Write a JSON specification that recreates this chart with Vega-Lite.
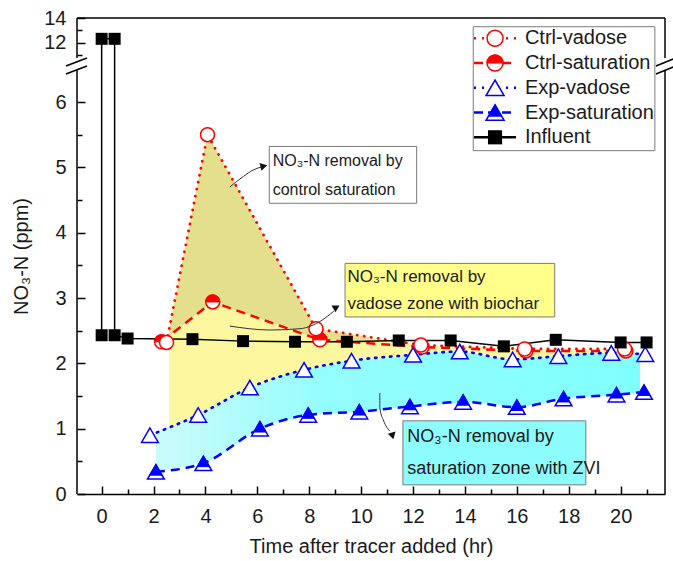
{
  "$schema": "https://vega.github.io/schema/vega-lite/v6.json",
  "width": 588,
  "height": 476,
  "autosize": "none",
  "padding": {"left": 77, "top": 18, "right": 8, "bottom": 67},
  "background": "white",
  "config": {"view": {"stroke": null}, "axis": {"labelFont": "Liberation Sans", "titleFont": "Liberation Sans"}},
  "datasets": {
    "pts": [
      {"s": "Influent", "t": 0, "v": 2.43, "o": 1},
      {"s": "Influent", "t": 0, "v": 12.33, "o": 2},
      {"s": "Influent", "t": 0.5, "v": 12.33, "o": 3},
      {"s": "Influent", "t": 0.5, "v": 2.43, "o": 4},
      {"s": "Influent", "t": 1.0, "v": 2.38, "o": 5},
      {"s": "Influent", "t": 3.5, "v": 2.37, "o": 6},
      {"s": "Influent", "t": 5.45, "v": 2.34, "o": 7},
      {"s": "Influent", "t": 7.45, "v": 2.33, "o": 8},
      {"s": "Influent", "t": 9.45, "v": 2.33, "o": 9},
      {"s": "Influent", "t": 11.45, "v": 2.35, "o": 10},
      {"s": "Influent", "t": 13.45, "v": 2.35, "o": 11},
      {"s": "Influent", "t": 15.5, "v": 2.26, "o": 12},
      {"s": "Influent", "t": 17.5, "v": 2.36, "o": 13},
      {"s": "Influent", "t": 20.0, "v": 2.32, "o": 14},
      {"s": "Influent", "t": 21.0, "v": 2.32, "o": 15},
      {"s": "Ctrl-vadose", "t": 2.5, "v": 2.32, "o": 1},
      {"s": "Ctrl-vadose", "t": 4.08, "v": 5.5, "o": 2},
      {"s": "Ctrl-vadose", "t": 8.26, "v": 2.53, "o": 3},
      {"s": "Ctrl-vadose", "t": 12.3, "v": 2.28, "o": 4},
      {"s": "Ctrl-vadose", "t": 16.3, "v": 2.22, "o": 5},
      {"s": "Ctrl-vadose", "t": 20.15, "v": 2.22, "o": 6},
      {"s": "Ctrl-saturation", "t": 2.31, "v": 2.33, "o": 1},
      {"s": "Ctrl-saturation", "t": 4.28, "v": 2.94, "o": 2},
      {"s": "Ctrl-saturation", "t": 8.41, "v": 2.36, "o": 3},
      {"s": "Ctrl-saturation", "t": 12.35, "v": 2.25, "o": 4},
      {"s": "Ctrl-saturation", "t": 16.35, "v": 2.19, "o": 5},
      {"s": "Ctrl-saturation", "t": 20.2, "v": 2.19, "o": 6},
      {"s": "Exp-vadose", "t": 1.86, "v": 0.9, "o": 1},
      {"s": "Exp-vadose", "t": 3.72, "v": 1.21, "o": 2},
      {"s": "Exp-vadose", "t": 5.71, "v": 1.63, "o": 3},
      {"s": "Exp-vadose", "t": 7.8, "v": 1.9, "o": 4},
      {"s": "Exp-vadose", "t": 9.63, "v": 2.04, "o": 5},
      {"s": "Exp-vadose", "t": 12.0, "v": 2.13, "o": 6},
      {"s": "Exp-vadose", "t": 13.8, "v": 2.18, "o": 7},
      {"s": "Exp-vadose", "t": 15.84, "v": 2.06, "o": 8},
      {"s": "Exp-vadose", "t": 17.6, "v": 2.11, "o": 9},
      {"s": "Exp-vadose", "t": 19.64, "v": 2.16, "o": 10},
      {"s": "Exp-vadose", "t": 20.95, "v": 2.14, "o": 11},
      {"s": "Exp-saturation", "t": 2.09, "v": 0.34, "o": 1},
      {"s": "Exp-saturation", "t": 3.92, "v": 0.47, "o": 2},
      {"s": "Exp-saturation", "t": 6.1, "v": 1.0, "o": 3},
      {"s": "Exp-saturation", "t": 7.96, "v": 1.21, "o": 4},
      {"s": "Exp-saturation", "t": 9.93, "v": 1.26, "o": 5},
      {"s": "Exp-saturation", "t": 11.88, "v": 1.34, "o": 6},
      {"s": "Exp-saturation", "t": 13.93, "v": 1.41, "o": 7},
      {"s": "Exp-saturation", "t": 16.0, "v": 1.33, "o": 8},
      {"s": "Exp-saturation", "t": 17.8, "v": 1.46, "o": 9},
      {"s": "Exp-saturation", "t": 19.84, "v": 1.52, "o": 10},
      {"s": "Exp-saturation", "t": 20.9, "v": 1.56, "o": 11}
    ],
    "yel": [
      {"t": 2.6, "lo": 0.7, "hi": 2.52},
      {"t": 3.72, "lo": 0.83, "hi": 4.78},
      {"t": 4.08, "lo": 0.9, "hi": 5.5},
      {"t": 5.71, "lo": 1.27, "hi": 4.34},
      {"t": 7.8, "lo": 1.55, "hi": 2.857},
      {"t": 8.26, "lo": 1.58, "hi": 2.53},
      {"t": 9.63, "lo": 1.65, "hi": 2.445},
      {"t": 12.0, "lo": 1.74, "hi": 2.3},
      {"t": 12.3, "lo": 1.75, "hi": 2.28},
      {"t": 13.8, "lo": 1.79, "hi": 2.26},
      {"t": 15.84, "lo": 1.7, "hi": 2.23},
      {"t": 16.3, "lo": 1.71, "hi": 2.22},
      {"t": 17.6, "lo": 1.78, "hi": 2.22},
      {"t": 19.64, "lo": 1.84, "hi": 2.22},
      {"t": 20.5, "lo": 1.85, "hi": 2.21}
    ],
    "hat": [
      {"t": 2.6, "lo": 2.42, "hi": 2.52},
      {"t": 3.72, "lo": 2.77, "hi": 4.78},
      {"t": 4.08, "lo": 2.88, "hi": 5.5},
      {"t": 4.28, "lo": 2.94, "hi": 5.36},
      {"t": 5.71, "lo": 2.74, "hi": 4.34},
      {"t": 7.8, "lo": 2.45, "hi": 2.857},
      {"t": 8.26, "lo": 2.38, "hi": 2.53},
      {"t": 8.41, "lo": 2.36, "hi": 2.52},
      {"t": 9.63, "lo": 2.33, "hi": 2.445},
      {"t": 10.3, "lo": 2.31, "hi": 2.4}
    ],
    "cyan": [
      {"t": 2.09, "lo": 0.34, "hi": 0.94},
      {"t": 3.72, "lo": 0.456, "hi": 1.21},
      {"t": 3.92, "lo": 0.47, "hi": 1.25},
      {"t": 5.71, "lo": 0.905, "hi": 1.63},
      {"t": 6.1, "lo": 1.0, "hi": 1.68},
      {"t": 7.8, "lo": 1.19, "hi": 1.9},
      {"t": 7.96, "lo": 1.21, "hi": 1.91},
      {"t": 9.63, "lo": 1.25, "hi": 2.04},
      {"t": 9.93, "lo": 1.26, "hi": 2.05},
      {"t": 11.88, "lo": 1.34, "hi": 2.12},
      {"t": 12.0, "lo": 1.345, "hi": 2.13},
      {"t": 13.8, "lo": 1.4, "hi": 2.18},
      {"t": 13.93, "lo": 1.41, "hi": 2.175},
      {"t": 15.84, "lo": 1.34, "hi": 2.06},
      {"t": 16.0, "lo": 1.33, "hi": 2.065},
      {"t": 17.6, "lo": 1.445, "hi": 2.11},
      {"t": 17.8, "lo": 1.46, "hi": 2.12},
      {"t": 19.64, "lo": 1.51, "hi": 2.16},
      {"t": 19.84, "lo": 1.52, "hi": 2.16},
      {"t": 20.75, "lo": 1.55, "hi": 2.145}
    ],
    "frame": [
      {"x1": -0.95, "x2": -0.95, "y1": 0, "y2": 6.49},
      {"x1": -0.95, "x2": -0.95, "y1": 10.79, "y2": 14},
      {"x1": 21.71, "x2": 21.71, "y1": 0, "y2": 6.49},
      {"x1": 21.71, "x2": 21.71, "y1": 10.79, "y2": 14},
      {"x1": -0.95, "x2": 21.71, "y1": 14, "y2": 14},
      {"x1": -1.376, "x2": -0.566, "y1": 6.429, "y2": 7.923},
      {"x1": -1.376, "x2": -0.566, "y1": 7.923, "y2": 10.79},
      {"x1": 21.36, "x2": 22.13, "y1": 6.429, "y2": 7.923},
      {"x1": 21.36, "x2": 22.13, "y1": 7.923, "y2": 10.79}
    ],
    "arr": [
      {"a": "1", "t": 4.94, "v": 4.7, "o": 1},
      {"a": "1", "t": 5.46, "v": 4.86, "o": 2},
      {"a": "1", "t": 5.84, "v": 4.96, "o": 3},
      {"a": "1", "t": 6.2, "v": 5.01, "o": 4},
      {"a": "2", "t": 4.94, "v": 2.57, "o": 1},
      {"a": "2", "t": 6.49, "v": 2.51, "o": 2},
      {"a": "2", "t": 7.64, "v": 2.53, "o": 3},
      {"a": "2", "t": 8.49, "v": 2.66, "o": 4},
      {"a": "2", "t": 8.95, "v": 2.8, "o": 5},
      {"a": "3", "t": 10.72, "v": 1.546, "o": 1},
      {"a": "3", "t": 10.72, "v": 1.316, "o": 2},
      {"a": "3", "t": 10.87, "v": 1.117, "o": 3},
      {"a": "3", "t": 11.1, "v": 0.964, "o": 4}
    ],
    "heads": [
      {"a": "1", "t": 6.25, "v": 5.02},
      {"a": "2", "t": 9.05, "v": 2.86},
      {"a": "3", "t": 11.23, "v": 0.918}
    ],
    "boxes": [
      {"b": "1", "x1": 6.46, "x2": 12.14, "y1": 4.45, "y2": 5.32},
      {"b": "2", "x1": 9.38, "x2": 17.46, "y1": 2.71, "y2": 3.53},
      {"b": "3", "x1": 11.61, "x2": 18.66, "y1": 0.14, "y2": 1.12},
      {"b": "L", "x1": 14.32, "x2": 21.32, "y1": 5.255, "y2": 13.3}
    ],
    "notes": [
      {"b": "1", "t": 6.59, "v": 5.09, "txt": "NO₃-N removal by"},
      {"b": "1", "t": 6.59, "v": 4.66, "txt": "control saturation"},
      {"b": "2", "t": 9.47, "v": 3.32, "txt": "NO₃-N removal by"},
      {"b": "2", "t": 9.47, "v": 2.91, "txt": "vadose zone with biochar"},
      {"b": "3", "t": 11.78, "v": 0.88, "txt": "NO₃-N removal by"},
      {"b": "3", "t": 11.78, "v": 0.39, "txt": "saturation zone with ZVI"}
    ],
    "leg": [
      {"s": "Ctrl-vadose"},
      {"s": "Ctrl-saturation"},
      {"s": "Exp-vadose"},
      {"s": "Exp-saturation"},
      {"s": "Influent"}
    ]
  },
  "layer": [
    {
      "layer": [
        {
          "data": {"name": "yel"},
          "mark": {"type": "area", "color": "#fdf7a0"},
          "encoding": {
            "x": {"field": "t", "type": "quantitative", "scale": {"domain": [-0.95, 21.71], "nice": false, "zero": false}, "axis": null},
            "y": {"field": "hi", "type": "quantitative", "scale": {"domain": [0, 6.49, 10.79, 14], "range": [476, 52, 40, 0], "nice": false, "zero": false}, "axis": null},
            "y2": {"field": "lo"}
          }
        },
        {
          "data": {"name": "hat"},
          "mark": {"type": "area", "color": "#e3df8d"},
          "encoding": {
            "x": {"field": "t", "type": "quantitative", "axis": null},
            "y": {"field": "hi", "type": "quantitative", "axis": null},
            "y2": {"field": "lo"}
          }
        },
        {
          "data": {"name": "cyan"},
          "mark": {"type": "area", "interpolate": "monotone", "color": {"gradient": "linear", "x1": 0, "y1": 0, "x2": 1, "y2": 0, "stops": [{"offset": 0, "color": "#ccfbfb"}, {"offset": 0.35, "color": "#95fdfd"}, {"offset": 1, "color": "#80ffff"}]}},
          "encoding": {
            "x": {"field": "t", "type": "quantitative", "axis": null},
            "y": {"field": "hi", "type": "quantitative", "axis": null},
            "y2": {"field": "lo"}
          }
        },
        {
          "data": {"name": "frame"},
          "mark": {"type": "rule", "color": "#000000", "strokeWidth": 1.5},
          "encoding": {
            "x": {"field": "x1", "type": "quantitative", "axis": null},
            "x2": {"field": "x2"},
            "y": {"field": "y1", "type": "quantitative", "axis": null},
            "y2": {"field": "y2"}
          }
        },
        {
          "data": {"name": "pts"},
          "transform": [{"filter": "datum.s === 'Exp-saturation'"}],
          "mark": {"type": "line", "color": "#0000ff", "strokeWidth": 2.5, "strokeDash": [9, 6], "interpolate": "monotone"},
          "encoding": {
            "x": {"field": "t", "type": "quantitative", "axis": null},
            "y": {"field": "v", "type": "quantitative", "axis": null},
            "order": {"field": "o", "type": "quantitative"}
          }
        },
        {
          "data": {"name": "pts"},
          "transform": [{"filter": "datum.s === 'Exp-vadose'"}],
          "mark": {"type": "line", "color": "#0000ff", "strokeWidth": 2.6, "strokeDash": [1.5, 6], "strokeCap": "round", "interpolate": "monotone"},
          "encoding": {
            "x": {"field": "t", "type": "quantitative", "axis": null},
            "y": {"field": "v", "type": "quantitative", "axis": null},
            "order": {"field": "o", "type": "quantitative"}
          }
        },
        {
          "data": {"name": "pts"},
          "transform": [{"filter": "datum.s === 'Ctrl-saturation'"}],
          "mark": {"type": "line", "color": "#ff0000", "strokeWidth": 2.5, "strokeDash": [9, 6]},
          "encoding": {
            "x": {"field": "t", "type": "quantitative", "axis": null},
            "y": {"field": "v", "type": "quantitative", "axis": null},
            "order": {"field": "o", "type": "quantitative"}
          }
        },
        {
          "data": {"name": "pts"},
          "transform": [{"filter": "datum.s === 'Ctrl-vadose'"}],
          "mark": {"type": "line", "color": "#ff0000", "strokeWidth": 2.8, "strokeDash": [0.1, 7], "strokeCap": "round"},
          "encoding": {
            "x": {"field": "t", "type": "quantitative", "axis": {"orient": "bottom", "values": [1, 3, 5, 7, 9, 11, 13, 15, 17, 19, 21], "tickSize": -5, "tickWidth": 1.5, "tickColor": "#000000", "domain": false, "labels": false, "grid": false, "title": null}},
            "y": {"field": "v", "type": "quantitative", "axis": {"orient": "left", "values": [0.5, 1.5, 2.5, 3.5, 4.5, 5.5, 11, 13], "tickSize": -5, "tickWidth": 1.5, "tickColor": "#000000", "domain": false, "labels": false, "grid": false, "title": null}},
            "order": {"field": "o", "type": "quantitative"}
          }
        },
        {
          "data": {"name": "pts"},
          "transform": [{"filter": "datum.s === 'Influent'"}],
          "mark": {"type": "line", "color": "#000000", "strokeWidth": 1.5},
          "encoding": {
            "x": {"field": "t", "type": "quantitative", "axis": {"orient": "bottom", "values": [0, 2, 4, 6, 8, 10, 12, 14, 16, 18, 20], "tickSize": -8, "tickWidth": 1.5, "tickColor": "#000000", "domain": true, "domainColor": "#000000", "domainWidth": 1.5, "grid": false, "labelFontSize": 20, "labelColor": "#1a1a1a", "labelPadding": 20, "labelFlush": false, "labelOverlap": false, "title": "Time after tracer added (hr)", "titleFontSize": 20, "titleFontWeight": "normal", "titleColor": "#1a1a1a", "titlePadding": 10}},
            "y": {"field": "v", "type": "quantitative", "axis": {"orient": "left", "values": [0, 1, 2, 3, 4, 5, 6, 12, 14], "tickSize": -8, "tickWidth": 1.5, "tickColor": "#000000", "domain": false, "grid": false, "labelFontSize": 20, "labelColor": "#1a1a1a", "labelPadding": 19, "labelFlush": false, "labelOverlap": false, "title": "NO₃-N (ppm)", "titleFontSize": 20, "titleFontWeight": "normal", "titleColor": "#1a1a1a", "titlePadding": 12}},
            "order": {"field": "o", "type": "quantitative"}
          }
        },
        {
          "data": {"name": "pts"},
          "transform": [{"filter": "datum.s === 'Exp-saturation'"}],
          "mark": {"type": "point", "shape": "triangle-up", "size": 280, "filled": true, "fill": "#ffffff", "stroke": "#0000ff", "strokeWidth": 1.5, "opacity": 1},
          "encoding": {
            "x": {"field": "t", "type": "quantitative", "axis": null},
            "y": {"field": "v", "type": "quantitative", "axis": null}
          }
        },
        {
          "data": {"name": "pts"},
          "transform": [{"filter": "datum.s === 'Exp-saturation'"}],
          "mark": {"type": "point", "shape": "M0,-0.866L-0.731,0.4L0.731,0.4Z", "size": 280, "filled": true, "fill": "#0000ff", "stroke": "#0000ff", "strokeWidth": 1, "opacity": 1},
          "encoding": {
            "x": {"field": "t", "type": "quantitative", "axis": null},
            "y": {"field": "v", "type": "quantitative", "axis": null}
          }
        },
        {
          "data": {"name": "pts"},
          "transform": [{"filter": "datum.s === 'Exp-vadose'"}],
          "mark": {"type": "point", "shape": "triangle-up", "size": 280, "filled": true, "fill": "#ffffff", "stroke": "#0000ff", "strokeWidth": 1.5, "opacity": 1},
          "encoding": {
            "x": {"field": "t", "type": "quantitative", "axis": null},
            "y": {"field": "v", "type": "quantitative", "axis": null}
          }
        },
        {
          "data": {"name": "pts"},
          "transform": [{"filter": "datum.s === 'Ctrl-saturation'"}],
          "mark": {"type": "point", "shape": "circle", "size": 196, "filled": true, "fill": "#ffffff", "stroke": "#ff0000", "strokeWidth": 1.5, "opacity": 1},
          "encoding": {
            "x": {"field": "t", "type": "quantitative", "axis": null},
            "y": {"field": "v", "type": "quantitative", "axis": null}
          }
        },
        {
          "data": {"name": "pts"},
          "transform": [{"filter": "datum.s === 'Ctrl-saturation'"}],
          "mark": {"type": "point", "shape": "M-1,0A1,1,0,0,1,1,0Z", "size": 196, "filled": true, "fill": "#ff0000", "stroke": "#ff0000", "strokeWidth": 1, "opacity": 1},
          "encoding": {
            "x": {"field": "t", "type": "quantitative", "axis": null},
            "y": {"field": "v", "type": "quantitative", "axis": null}
          }
        },
        {
          "data": {"name": "pts"},
          "transform": [{"filter": "datum.s === 'Ctrl-vadose'"}],
          "mark": {"type": "point", "shape": "circle", "size": 196, "filled": true, "fill": "#ffffff", "stroke": "#ff0000", "strokeWidth": 1.5, "opacity": 1},
          "encoding": {
            "x": {"field": "t", "type": "quantitative", "axis": null},
            "y": {"field": "v", "type": "quantitative", "axis": null}
          }
        },
        {
          "data": {"name": "pts"},
          "transform": [{"filter": "datum.s === 'Influent'"}],
          "mark": {"type": "point", "shape": "square", "size": 144, "filled": true, "color": "#000000", "opacity": 1},
          "encoding": {
            "x": {"field": "t", "type": "quantitative", "axis": null},
            "y": {"field": "v", "type": "quantitative", "axis": null}
          }
        },
        {
          "data": {"name": "arr"},
          "mark": {"type": "line", "color": "#333333", "strokeWidth": 1, "interpolate": "monotone"},
          "encoding": {
            "x": {"field": "t", "type": "quantitative", "axis": null},
            "y": {"field": "v", "type": "quantitative", "axis": null},
            "detail": {"field": "a"},
            "order": {"field": "o", "type": "quantitative"}
          }
        },
        {
          "data": {"name": "heads"},
          "mark": {"type": "point", "shape": "triangle-right", "size": 64, "filled": true, "color": "#111111", "opacity": 1},
          "encoding": {
            "x": {"field": "t", "type": "quantitative", "axis": null},
            "y": {"field": "v", "type": "quantitative", "axis": null},
            "angle": {"field": "a", "type": "nominal", "scale": {"domain": ["1", "2", "3"], "range": [-15, -45, 45]}, "legend": null}
          }
        },
        {
          "data": {"name": "boxes"},
          "mark": {"type": "rect", "stroke": "#7a7a7a", "strokeWidth": 1},
          "encoding": {
            "x": {"field": "x1", "type": "quantitative", "axis": null},
            "x2": {"field": "x2"},
            "y": {"field": "y1", "type": "quantitative", "axis": null},
            "y2": {"field": "y2"},
            "fill": {"field": "b", "type": "nominal", "scale": {"domain": ["1", "2", "3", "L"], "range": ["#ffffff", "#ffff8a", "#8dfcfc", "#ffffff"]}, "legend": null}
          }
        },
        {
          "data": {"name": "notes"},
          "mark": {"type": "text", "align": "left", "baseline": "middle", "font": "Liberation Sans", "color": "#1a1a1a"},
          "encoding": {
            "x": {"field": "t", "type": "quantitative", "axis": null},
            "y": {"field": "v", "type": "quantitative", "axis": null},
            "text": {"field": "txt"},
            "size": {"field": "b", "type": "nominal", "scale": {"domain": ["1", "2", "3"], "range": [16, 18, 16]}, "legend": null}
          }
        }
      ],
      "resolve": {"axis": {"x": "independent", "y": "independent"}}
    },
    {
      "data": {"name": "leg"},
      "encoding": {
        "y": {"field": "s", "type": "nominal", "sort": null, "scale": {"type": "point", "domain": ["Ctrl-vadose", "Ctrl-saturation", "Exp-vadose", "Exp-saturation", "Influent"], "range": [20.3, 119.3], "padding": 0}, "axis": null}
      },
      "layer": [
        {
          "mark": {"type": "rule", "strokeWidth": 2.5, "strokeCap": "butt"},
          "encoding": {
            "x": {"datum": 14.35, "type": "quantitative", "axis": null},
            "x2": {"datum": 15.97},
            "color": {"field": "s", "type": "nominal", "scale": {"domain": ["Ctrl-vadose", "Ctrl-saturation", "Exp-vadose", "Exp-saturation", "Influent"], "range": ["#ff0000", "#ff0000", "#0000ff", "#0000ff", "#000000"]}, "legend": null},
            "strokeDash": {"field": "s", "type": "nominal", "scale": {"domain": ["Ctrl-vadose", "Ctrl-saturation", "Exp-vadose", "Exp-saturation", "Influent"], "range": [[2, 6], [9, 5], [2, 6], [9, 5], [100, 0]]}, "legend": null}
          }
        },
        {
          "transform": [{"filter": "datum.s === 'Ctrl-vadose' || datum.s === 'Ctrl-saturation'"}],
          "mark": {"type": "point", "shape": "circle", "size": 256, "filled": true, "fill": "#ffffff", "stroke": "#ff0000", "strokeWidth": 1.5, "opacity": 1},
          "encoding": {"x": {"datum": 15.16, "type": "quantitative", "axis": null}}
        },
        {
          "transform": [{"filter": "datum.s === 'Ctrl-saturation'"}],
          "mark": {"type": "point", "shape": "M-1,0A1,1,0,0,1,1,0Z", "size": 256, "filled": true, "fill": "#ff0000", "stroke": "#ff0000", "strokeWidth": 1, "opacity": 1},
          "encoding": {"x": {"datum": 15.16, "type": "quantitative", "axis": null}}
        },
        {
          "transform": [{"filter": "datum.s === 'Exp-vadose' || datum.s === 'Exp-saturation'"}],
          "mark": {"type": "point", "shape": "triangle-up", "size": 324, "filled": true, "fill": "#ffffff", "stroke": "#0000ff", "strokeWidth": 1.5, "opacity": 1},
          "encoding": {"x": {"datum": 15.16, "type": "quantitative", "axis": null}}
        },
        {
          "transform": [{"filter": "datum.s === 'Exp-saturation'"}],
          "mark": {"type": "point", "shape": "M0,-0.866L-0.731,0.4L0.731,0.4Z", "size": 324, "filled": true, "fill": "#0000ff", "stroke": "#0000ff", "strokeWidth": 1, "opacity": 1},
          "encoding": {"x": {"datum": 15.16, "type": "quantitative", "axis": null}}
        },
        {
          "transform": [{"filter": "datum.s === 'Influent'"}],
          "mark": {"type": "point", "shape": "square", "size": 200, "filled": true, "color": "#000000", "opacity": 1},
          "encoding": {"x": {"datum": 15.16, "type": "quantitative", "axis": null}}
        },
        {
          "mark": {"type": "text", "align": "left", "baseline": "middle", "font": "Liberation Sans", "fontSize": 20, "color": "#1a1a1a"},
          "encoding": {
            "x": {"datum": 16.31, "type": "quantitative", "axis": null},
            "text": {"field": "s"}
          }
        }
      ]
    }
  ],
  "resolve": {"scale": {"y": "independent"}}
}
